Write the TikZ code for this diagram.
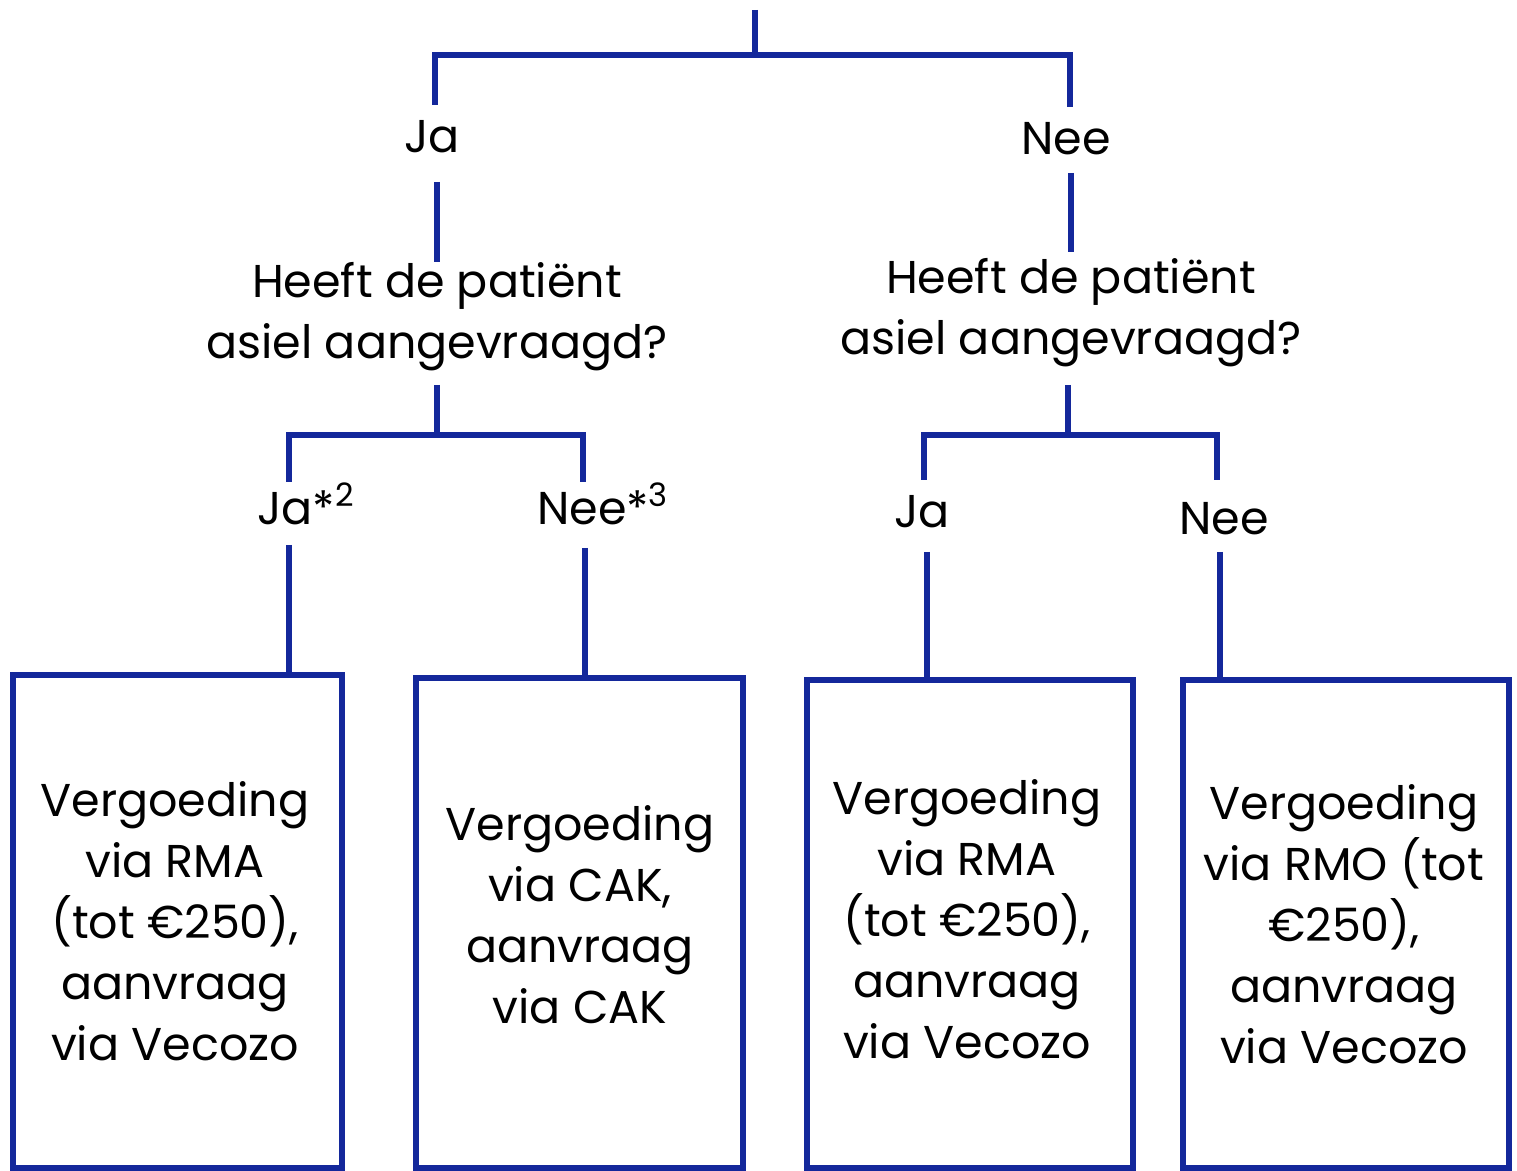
\documentclass[tikz,border=0pt]{standalone}
\usepackage{fontspec}
\setmainfont{Poppins}
\definecolor{tb}{RGB}{20,40,155}
\begin{document}
\begin{tikzpicture}[x=0.5pt,y=-0.5pt]
\tikzset{
  conn/.style={draw=tb, line width=3pt, line join=miter},
  lab/.style={font=\fontsize{23}{30.5}\selectfont, inner sep=0pt, align=center, text=black},
  boxnode/.style={draw=tb, line width=3pt, inner sep=0pt},
}
\useasboundingbox (0,0) rectangle (1517,1171);

% labels
\node[lab, anchor=base] (ja) at (432,153) {Ja};
\node[lab, anchor=base] (nee) at (1066,155) {Nee};
\node[lab] (q1) at (437,317) {Heeft de patiënt\\asiel aangevraagd?};
\node[lab] (q2) at (1071,313) {Heeft de patiënt\\asiel aangevraagd?};
\node[lab, anchor=base] (ja2) at (306,525) {Ja*\textsuperscript{2}};
\node[lab, anchor=base] (nee3) at (603,525) {Nee*\textsuperscript{3}};
\node[lab, anchor=base] (ja3) at (922,528) {Ja};
\node[lab, anchor=base] (nee4) at (1224,535) {Nee};

% boxes
\node[boxnode, minimum width=164.5pt, minimum height=246.5pt] (b1) at (177.5,921.5) {};
\node[boxnode, minimum width=163.5pt, minimum height=245pt] (b2) at (579.5,923) {};
\node[boxnode, minimum width=163pt, minimum height=244pt] (b3) at (970,924) {};
\node[boxnode, minimum width=163pt, minimum height=244pt] (b4) at (1346,924) {};

% box texts
\node[lab] (t1) at (175,921) {Vergoeding\\via RMA\\(tot €250),\\aanvraag\\via Vecozo};
\node[lab] (t2) at (580,915) {Vergoeding\\via CAK,\\aanvraag\\via CAK};
\node[lab] (t3) at (967,919) {Vergoeding\\via RMA\\(tot €250),\\aanvraag\\via Vecozo};
\node[lab] (t4) at (1344,924) {Vergoeding\\via RMO (tot\\€250),\\aanvraag\\via Vecozo};

% connector coordinates
\coordinate (top) at (755,10);
\coordinate (topbar) at (755,55);
\coordinate (jaup) at (435,105);
\coordinate (jadn) at (437,182);
\coordinate (q1up) at (437,262);
\coordinate (neeup) at (1070,107);
\coordinate (needn) at (1071,173);
\coordinate (q2up) at (1071,252);
\coordinate (q1dn) at (437,385);
\coordinate (q1bar) at (437,435);
\coordinate (jaLup) at (289,482);
\coordinate (neeLup) at (583,482);
\coordinate (jaLdn) at (289,545);
\coordinate (neeLdn) at (585,548);
\coordinate (q2dn) at (1068,385);
\coordinate (q2bar) at (1068,435);
\coordinate (jaRup) at (924,480);
\coordinate (neeRup) at (1217,480);
\coordinate (jaRdn) at (927,552);
\coordinate (neeRdn) at (1220,552);

% connectors
\draw[conn] (top) -- (topbar);
\draw[conn] (jaup) -- (jaup |- topbar) -- ([xshift=1.5pt]neeup |- topbar);
\draw[conn] (neeup |- topbar) -- (neeup);
\draw[conn] (jadn) -- (q1up);
\draw[conn] (needn) -- (q2up);
\draw[conn] (q1dn) -- (q1bar);
\draw[conn] (jaLup) -- (jaLup |- q1bar) -- (neeLup |- q1bar) -- (neeLup);
\draw[conn] (jaLdn) -- (jaLdn |- b1.north);
\draw[conn] (neeLdn) -- (neeLdn |- b2.north);
\draw[conn] (q2dn) -- (q2bar);
\draw[conn] (jaRup) -- (jaRup |- q2bar) -- (neeRup |- q2bar) -- (neeRup);
\draw[conn] (jaRdn) -- (jaRdn |- b3.north);
\draw[conn] (neeRdn) -- (neeRdn |- b4.north);
\end{tikzpicture}
\end{document}
